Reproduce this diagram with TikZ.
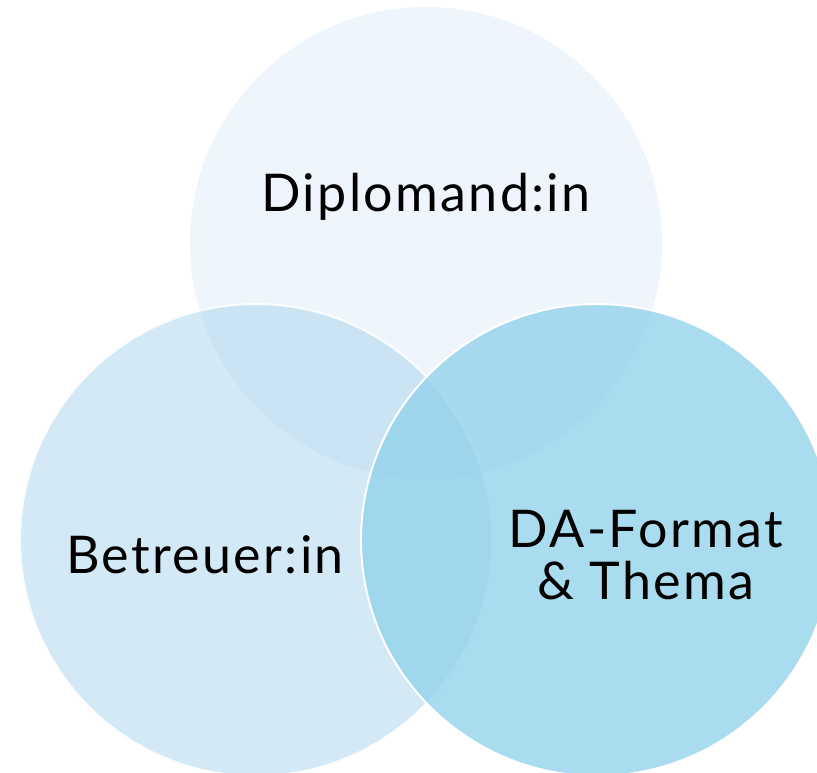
\documentclass[tikz,border=0pt]{standalone}
\usepackage{fontspec}
\setmainfont{Lato}[LetterSpace=4.5]
\usetikzlibrary{positioning}
\definecolor{topblue}{HTML}{EEF5FC}
\definecolor{leftblue}{HTML}{A7D5ED}
\definecolor{rightblue}{HTML}{92D2EA}
\tikzstyle{venn} = [circle, minimum size=472pt, inner sep=0pt, draw=white, line width=2pt]
\tikzstyle{venntext} = [align=center, font=\fontsize{52}{52}\selectfont, text=black]

\begin{document}
\begin{tikzpicture}[x=1pt, y=-1pt]
	\useasboundingbox (0,0) rectangle (817,773);
	\node (Diplomand) [venn, fill=topblue, draw=none] at (426,243) {};
	\node (Betreuer) [venn, fill=leftblue, fill opacity=0.5, draw opacity=0.9] at (256,540) {};
	\node (Thema) [venn, fill=rightblue, fill opacity=0.78] at (597,540) {};
	\node (DiplomandText) [venntext] at (426,197) {Diplomand:in};
	\node (BetreuerText) [venntext] at (205,555) {Betreuer:in};
	\node (ThemaText) [venntext] at (646,555) {DA-Format\\\& Thema};
\end{tikzpicture}
\end{document}
